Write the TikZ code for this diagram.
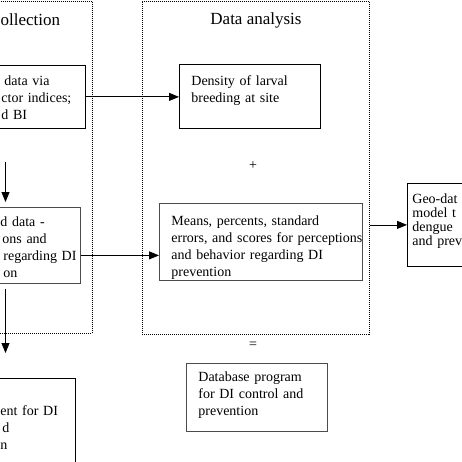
\documentclass[tikz,border=0pt]{standalone}
\usepackage{fontspec}
\setmainfont{Liberation Serif}
\usetikzlibrary{arrows.meta}

\begin{document}
\begin{tikzpicture}[x=1pt, y=-1pt, >={Triangle[length=10pt,width=8pt]},
    font=\fontsize{14}{17}\selectfont,
    box/.style={draw, line width=0.8pt, anchor=north west, inner sep=0pt, align=left,
        execute at begin node={\leftskip=12pt}},
    greybox/.style={box, draw=black!70},
    frame/.style={draw, line width=0.8pt, dash pattern=on 1pt off 1pt, anchor=north west, inner sep=0pt},
    title/.style={font=\fontsize{17}{20}\selectfont},
    link/.style={->, line width=0.8pt}]
    \useasboundingbox (0,0) rectangle (462,462);
    \clip (0,0) rectangle (462,462);
    \node (collectframe) [frame, minimum width=104pt, minimum height=332pt] at (-12,1) {};
    \node (analysisframe) [frame, minimum width=227pt, minimum height=333pt] at (142,1) {};
    \node (collecttitle) [title, anchor=west, inner xsep=0pt] at (0.5,20) {ollection};
    \node (analysistitle) [title] at (256,20) {Data analysis};
    \node (field) [box, text width=96pt, text height=20pt, text depth=43pt] at (-11,65)
        {\hspace*{3pt}data via\\ctor indices;\\d BI};
    \node (density) [box, text width=141pt, text height=21pt, text depth=43pt] at (179,64)
        {Density of larval\\breeding at site};
    \node (collected) [greybox, text width=92pt, text height=19pt, text depth=57pt] at (-12,207)
        {d data -\\\hspace*{2pt}ons and\\\hspace*{3pt}regarding DI\\\hspace*{3pt}on};
    \node (plus) at (253,166) {+};
    \node (means) [greybox, text width=203pt, text height=22pt, text depth=55pt] at (159,203)
        {Means, percents, standard\\errors, and scores for perceptions\\and behavior regarding DI\\prevention};
    \node (geo) [box, font=\fontsize{14}{14}\selectfont, execute at begin node={\leftskip=5pt},
        text width=80pt, text height=20pt, text depth=63pt] at (407,183)
        {Geo-dat\\model t\\dengue\\and prev};
    \node (equals) at (253,345) {=};
    \node (database) [greybox, text width=141pt, text height=18pt, text depth=50pt] at (186,363)
        {Database program\\for DI control and\\prevention};
    \node (management) [box, text width=87pt, text height=37pt, text depth=60pt] at (-12,378)
        {ent for DI\\\hspace*{2pt}d\\n};
    \coordinate (down1) at (5.5,162);
    \coordinate (down2) at (5.5,353);
    \draw[link] (field.east) -- (field.east -| density.west);
    \draw[link] ([yshift=-10pt]collected.east) -- ([yshift=-10pt]collected.east -| means.west);
    \draw[link] (geo.west -| analysisframe.east) -- (geo.west);
    \draw[link, shorten >=5pt] (down1) -- (down1 |- collected.north);
    \draw[link, shorten <=5pt] (down2 |- collected.south) -- (down2);
\end{tikzpicture}
\end{document}
